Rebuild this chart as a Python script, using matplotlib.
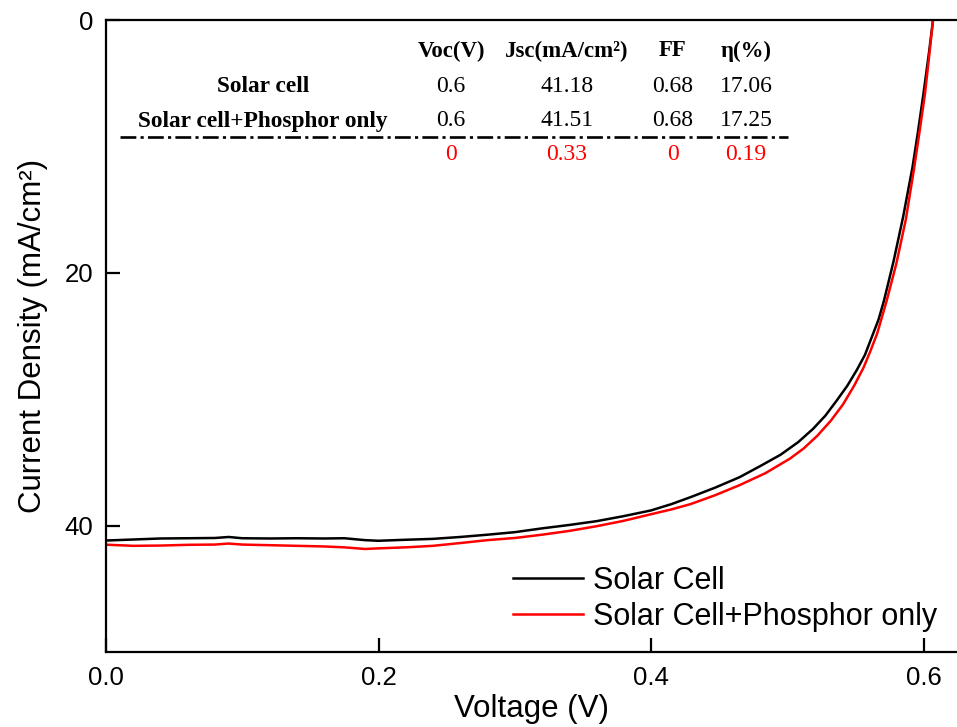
import matplotlib
matplotlib.use("Agg")
import matplotlib.pyplot as plt

# J-V curves (voltage in V, current density in mA/cm^2)
v_cell = [0.000, 0.020, 0.040, 0.060, 0.080, 0.090, 0.100, 0.120, 0.140, 0.160,
          0.175, 0.190, 0.200, 0.220, 0.240, 0.260, 0.280, 0.300, 0.320, 0.340,
          0.360, 0.380, 0.400, 0.415, 0.429, 0.447, 0.465, 0.480, 0.495, 0.508,
          0.519, 0.528, 0.536, 0.544, 0.551, 0.557, 0.562, 0.567, 0.571, 0.578,
          0.585, 0.592, 0.596, 0.600, 0.604, 0.607]
j_cell = [41.18, 41.10, 41.02, 41.00, 40.98, 40.90, 41.00, 41.02, 41.00, 41.02,
          41.00, 41.15, 41.20, 41.12, 41.05, 40.90, 40.72, 40.52, 40.22, 39.95,
          39.65, 39.25, 38.80, 38.30, 37.75, 37.00, 36.17, 35.30, 34.40, 33.40,
          32.34, 31.30, 30.15, 28.95, 27.70, 26.50, 25.10, 23.70, 22.20, 19.10,
          15.60, 11.60, 8.80, 5.80, 2.60, 0.00]

v_phos = [0.000, 0.020, 0.040, 0.060, 0.080, 0.090, 0.100, 0.120, 0.140, 0.160,
          0.175, 0.190, 0.200, 0.220, 0.240, 0.260, 0.280, 0.300, 0.320, 0.340,
          0.360, 0.380, 0.400, 0.415, 0.429, 0.447, 0.465, 0.484, 0.502, 0.512,
          0.522, 0.532, 0.541, 0.549, 0.556, 0.561, 0.566, 0.573, 0.580, 0.587,
          0.593, 0.597, 0.601, 0.604, 0.607]
j_phos = [41.51, 41.60, 41.58, 41.52, 41.50, 41.42, 41.50, 41.55, 41.60, 41.65,
          41.72, 41.85, 41.80, 41.72, 41.60, 41.38, 41.15, 40.98, 40.72, 40.42,
          40.05, 39.62, 39.10, 38.72, 38.30, 37.60, 36.80, 35.85, 34.70, 33.90,
          32.90, 31.70, 30.40, 28.95, 27.50, 26.20, 24.80, 22.20, 19.30, 15.80,
          11.80, 8.90, 5.90, 3.00, 0.00]

series_labels = ["Solar Cell", "Solar Cell+Phosphor only"]

# Photovoltaic parameter table
table_cols = ["Voc(V)", "Jsc(mA/cm²)", "FF", "η(%)"]
table_rows = ["Solar cell", "Solar cell+Phosphor only"]
row_cell = ["0.6", "41.18", "0.68", "17.06"]
row_phos = ["0.6", "41.51", "0.68", "17.25"]
row_diff = ["0", "0.33", "0", "0.19"]

W, H = 957, 727
fig = plt.figure(figsize=(W / 100, H / 100), dpi=100)
ax = fig.add_axes([106 / W, (H - 652) / H, (W - 106) / W, (652 - 20) / H])

ax.plot(v_cell, j_cell, color="black", lw=1.8, label=series_labels[0])
ax.plot(v_phos, j_phos, color="#ff0000", lw=1.8, label=series_labels[1])

ax.set_xlim(0, (W - 106) / 1362.5)
ax.set_ylim(50, 0)
ax.set_xticks([0.0, 0.2, 0.4, 0.6])
ax.set_xticklabels(["0.0", "0.2", "0.4", "0.6"])
ax.set_yticks([0, 20, 40])

sans = "Liberation Sans"
serif = "Liberation Serif"
for s in ["left", "bottom", "top"]:
    ax.spines[s].set_linewidth(1.6)
ax.spines["right"].set_visible(False)
ax.tick_params(direction="in", length=10, width=1.6, labelsize=18.5, pad=9,
               top=False, right=False)
ax.tick_params(axis="x", pad=10)
for lab in ax.get_xticklabels() + ax.get_yticklabels():
    lab.set_fontfamily(sans)

ax.set_xlabel("Voltage (V)", fontsize=22.5, family=sans, labelpad=3)
ax.set_ylabel("Current Density (mA/cm²)", fontsize=22.5, family=sans, labelpad=12)

leg = ax.legend(loc="upper left", bbox_to_anchor=(513 / W, 1 - 566 / H),
                bbox_transform=fig.transFigure, frameon=False,
                prop={"family": sans, "size": 22}, handlelength=2.3,
                handletextpad=0.33, borderpad=0, borderaxespad=0,
                labelspacing=0.2)
for ln in leg.get_lines():
    ln.set_linewidth(1.8)


def ftext(x, y, s, **kw):
    fig.text(x / W, 1 - y / H, s, ha="center", va="center", family=serif, **kw)


col_x = [451, 567, 673, 746]
for x, s in zip(col_x, table_cols):
    ftext(x, 51, s, fontsize=16.5, fontweight="bold")
ftext(263, 86, table_rows[0], fontsize=16.8, fontweight="bold")
ftext(263, 121, table_rows[1], fontsize=16.8, fontweight="bold")
for x, s in zip(col_x, row_cell):
    ftext(x, 86, s, fontsize=17)
for x, s in zip(col_x, row_phos):
    ftext(x, 121, s, fontsize=17)
for x, s in zip(col_x, row_diff):
    ftext(x, 155, s, fontsize=17, color="#ff0000")

# dash-dot rule separating the difference row
sep = plt.Line2D([120 / W, 788 / W], [1 - 137 / H, 1 - 137 / H],
                 transform=fig.transFigure, color="black", lw=1.9,
                 linestyle=(0, (6.0, 1.6, 1.2, 1.6)))
fig.add_artist(sep)

fig.savefig("out.png", dpi=100)
